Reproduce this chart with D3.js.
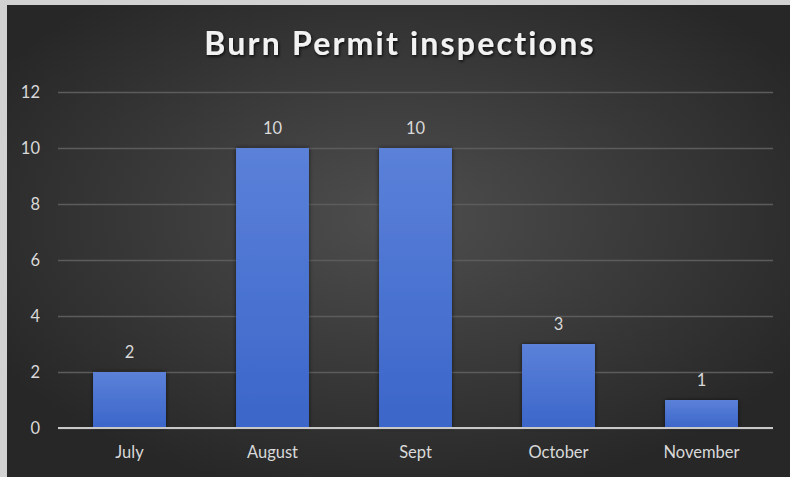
<!DOCTYPE html>
<html>
<head>
<meta charset="utf-8">
<script src="https://cdn.jsdelivr.net/npm/d3@7"></script>
<style>
  html, body { margin: 0; padding: 0; background: #d4d4d4; }
  svg { display: block; }
</style>
</head>
<body>
<div id="chart"></div>
<script>
// chart data
var months = ["July", "August", "Sept", "October", "November"];
var inspections = [2, 10, 10, 3, 1];
var yTicks = [0, 2, 4, 6, 8, 10, 12];

var W = 790, H = 477;
var margin = {top: 92, right: 17, bottom: 49, left: 58};
var labelFont = "Lato, 'Open Sans', sans-serif";

var svg = d3.select("#chart").append("svg")
    .attr("width", W)
    .attr("height", H);

var defs = svg.append("defs");

//Background gradient, lighter in the middle
var bg = defs.append("radialGradient")
    .attr("id", "bgGrad")
    .attr("cx", "50%").attr("cy", "45%").attr("r", "60%");
bg.append("stop").attr("offset", "0%").attr("stop-color", "#4e4e4e");
bg.append("stop").attr("offset", "100%").attr("stop-color", "#272727");

var barGrad = defs.append("linearGradient")
    .attr("id", "barGrad")
    .attr("x1", 0).attr("y1", 0).attr("x2", 0).attr("y2", 1);
barGrad.append("stop").attr("offset", "0%").attr("stop-color", "#5b81d9");
barGrad.append("stop").attr("offset", "100%").attr("stop-color", "#3b66c9");

var shadow = defs.append("filter").attr("id", "barShadow")
    .attr("x", "-20%").attr("y", "-20%").attr("width", "140%").attr("height", "140%");
shadow.append("feDropShadow")
    .attr("dx", 0).attr("dy", 0).attr("stdDeviation", 2)
    .attr("flood-color", "#000").attr("flood-opacity", 0.6);

var titleShadow = defs.append("filter").attr("id", "titleShadow")
    .attr("x", "-10%").attr("y", "-30%").attr("width", "120%").attr("height", "160%");
titleShadow.append("feDropShadow")
    .attr("dx", 1).attr("dy", 1.5).attr("stdDeviation", 1.5)
    .attr("flood-color", "#000").attr("flood-opacity", 0.8);

// light border round the dark panel
svg.append("rect")
    .attr("width", W).attr("height", H)
    .attr("fill", "#d2d2d2");

svg.append("rect")
    .attr("x", 7).attr("y", 5)
    .attr("width", W - 7).attr("height", H - 5)
    .attr("fill", "url(#bgGrad)");

var x = d3.scaleBand()
    .domain(months)
    .range([margin.left, W - margin.right])
    .paddingInner(0.49)
    .paddingOuter(0.245);

var y = d3.scaleLinear()
    .domain([0, 12])
    .range([H - margin.bottom, margin.top]);

// gridlines
var yAxis = d3.axisLeft(y)
    .tickValues(yTicks)
    .tickSize(-(W - margin.left - margin.right))
    .tickPadding(18)
    .tickFormat(d3.format("d"));

var gy = svg.append("g")
    .attr("transform", "translate(" + margin.left + ",0)")
    .call(yAxis);
gy.select(".domain").remove();
gy.selectAll(".tick line")
    .attr("stroke", "#5c5c5c")
    .attr("stroke-width", 1.3);
gy.selectAll(".tick text")
    .attr("fill", "#d9d9d9")
    .style("font-family", labelFont)
    .style("font-size", "16.5px");

// bars
svg.selectAll(".bar")
    .data(inspections)
    .enter()
    .append("rect")
    .attr("class", "bar")
    .attr("x", function(d, i){ return x(months[i]); })
    .attr("y", function(d){ return y(d); })
    .attr("width", x.bandwidth())
    .attr("height", function(d){ return y(0) - y(d); })
    .attr("fill", "url(#barGrad)")
    .attr("filter", "url(#barShadow)");

// x axis line
svg.append("line")
    .attr("x1", margin.left).attr("x2", W - margin.right)
    .attr("y1", y(0)).attr("y2", y(0))
    .attr("stroke", "#c8c8c8")
    .attr("stroke-width", 2);

var gx = svg.append("g")
    .attr("transform", "translate(0," + y(0) + ")")
    .call(d3.axisBottom(x).tickSize(0).tickPadding(18));
gx.select(".domain").remove();
gx.selectAll(".tick text")
    .attr("fill", "#d9d9d9")
    .style("font-family", labelFont)
    .style("font-size", "16.5px");

// value labels
svg.selectAll(".val")
    .data(inspections)
    .enter()
    .append("text")
    .attr("class", "val")
    .attr("x", function(d, i){ return x(months[i]) + x.bandwidth() / 2; })
    .attr("y", function(d){ return y(d) - 14; })
    .attr("text-anchor", "middle")
    .attr("fill", "#d9d9d9")
    .style("font-family", labelFont)
    .style("font-size", "16.5px")
    .text(function(d){ return d; });

svg.append("text")
    .attr("x", 400)
    .attr("y", 55)
    .attr("text-anchor", "middle")
    .attr("fill", "#f2f2f2")
    .attr("filter", "url(#titleShadow)")
    .style("font-family", labelFont)
    .style("font-weight", "bold")
    .style("font-size", "32px")
    .style("letter-spacing", "2.2px")
    .text("Burn Permit inspections");
</script>
</body>
</html>
